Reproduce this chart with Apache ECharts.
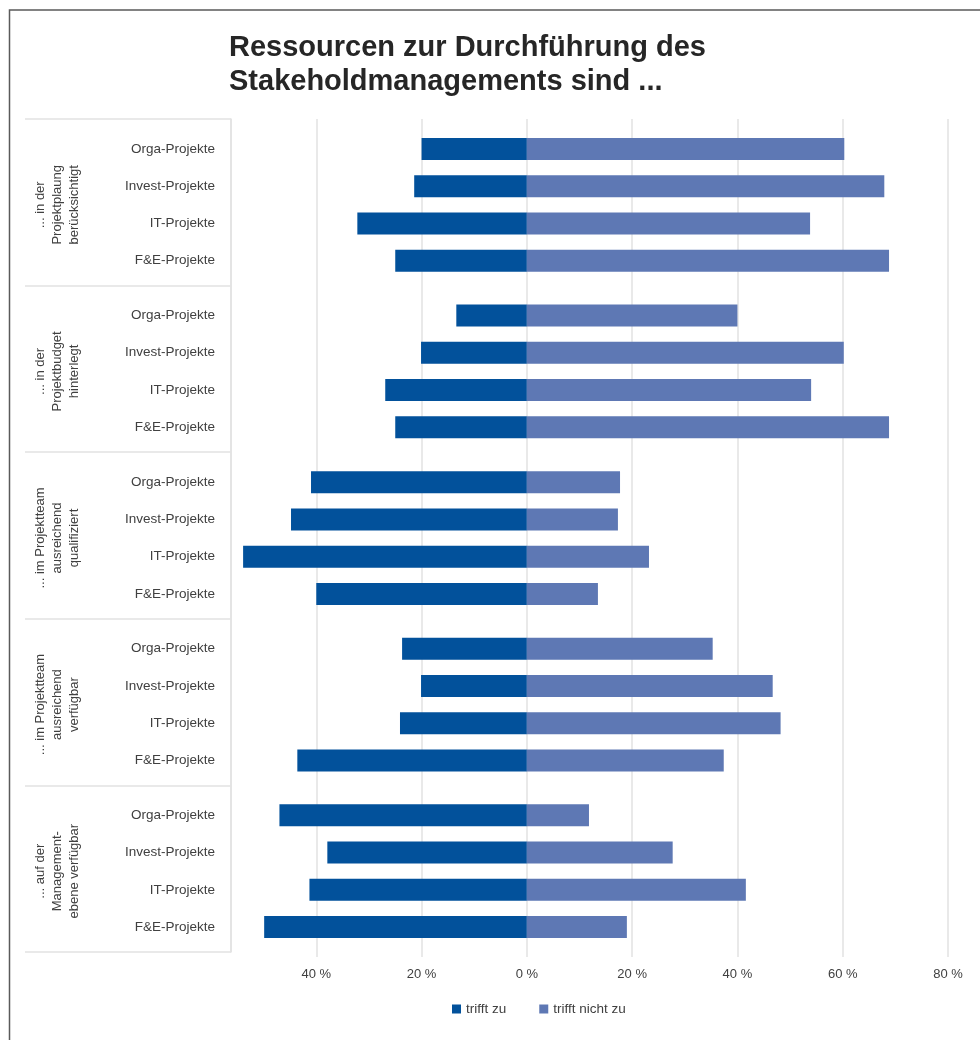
<!DOCTYPE html>
<html>
<head>
<meta charset="utf-8">
<script src="https://cdn.jsdelivr.net/npm/echarts@6/dist/echarts.min.js"></script>
<style>
  html, body { margin: 0; padding: 0; background: #fff; }
  #chart { width: 980px; height: 1040px; }
</style>
</head>
<body>
<div id="chart"></div>
<script>
// Question groups (rotated labels on the left) and the project types inside each group
const groupLabels = [
  '... in der\nProjektplaung\nberücksichtigt',
  '... in der\nProjektbudget\nhinterlegt',
  '... im Projektteam\nausreichend\nqualifiziert',
  '... im Projektteam\nausreichend\nverfügbar',
  '... auf der\nManagement-\nebene verfügbar'
];
const projectTypes = ['Orga-Projekte', 'Invest-Projekte', 'IT-Projekte', 'F&E-Projekte'];

// Shares in percent, four project types per group, groups in order
const trifftZu = [
  20.0, 21.4, 32.2, 25.0,
  13.4, 20.1, 26.9, 25.0,
  41.0, 44.8, 53.9, 40.0,
  23.7, 20.1, 24.1, 43.6,
  47.0, 37.9, 41.3, 49.9
];
const trifftNichtZu = [
  60.3, 67.9, 53.8, 68.8,
  40.0, 60.2, 54.0, 68.8,
  17.7, 17.3, 23.2, 13.5,
  35.3, 46.7, 48.2, 37.4,
  11.8, 27.7, 41.6, 19.0
];
const seriesNames = ['trifft zu', 'trifft nicht zu'];

const FONT = '"Liberation Sans", Arial, sans-serif';
const TEXT = '#404040';
const GRID_LINE = '#e2e2e2';
const COLORS = ['#02519b', '#5e78b4'];

const X_MIN = -56.2, X_MAX = 80;
const PLOT_LEFT = 231, PLOT_RIGHT = 948, PLOT_TOP = 119, PLOT_BOTTOM = 952;
const W = 980, H = 1040;
const bandH = (PLOT_BOTTOM - PLOT_TOP) / groupLabels.length;
const rowsH = 149;

const grids = [{
  left: PLOT_LEFT, right: W - PLOT_RIGHT, top: PLOT_TOP, bottom: H - PLOT_BOTTOM
}];
const xAxes = [{
  type: 'value', gridIndex: 0, min: X_MIN, max: X_MAX,
  splitNumber: 7, minInterval: 20, maxInterval: 20,
  axisLine: { show: false },
  axisTick: { show: true, length: 5, lineStyle: { color: GRID_LINE, width: 1.5 } },
  splitLine: { show: true, lineStyle: { color: GRID_LINE, width: 1.5 } },
  axisLabel: {
    showMinLabel: false, margin: 16, color: TEXT, fontSize: 13, fontFamily: FONT,
    formatter: v => (Math.abs(v) % 20 === 0 ? Math.abs(v) + ' %' : '')
  }
}];
const yAxes = [{
  // group frame on the left: ticks at band boundaries form the separators
  type: 'category', gridIndex: 0, data: groupLabels, position: 'left',
  axisLine: { show: true, onZero: false, lineStyle: { color: GRID_LINE, width: 1.5 } },
  axisTick: { show: true, length: PLOT_LEFT - 25, lineStyle: { color: GRID_LINE, width: 1.5 } },
  axisLabel: { show: false }
}];
const series = [];

groupLabels.forEach((label, g) => {
  const gi = g + 1;
  const top = PLOT_TOP + g * bandH + (bandH - rowsH) / 2 + 2.5;
  grids.push({ left: PLOT_LEFT, right: W - PLOT_RIGHT, top: top, height: rowsH });
  xAxes.push({
    type: 'value', gridIndex: gi, min: X_MIN, max: X_MAX, show: false,
    splitLine: { show: false }
  });
  yAxes.push({
    type: 'category', gridIndex: gi, data: projectTypes, inverse: true, position: 'left',
    axisLine: { show: false, onZero: false }, axisTick: { show: false },
    axisLabel: { margin: 16, color: TEXT, fontSize: 13.5, fontFamily: FONT },
    name: label, nameLocation: 'middle', nameGap: 148, nameRotate: 90,
    nameTextStyle: { color: TEXT, fontSize: 13, lineHeight: 17, fontFamily: FONT, align: 'center' }
  });
  const zu = trifftZu.slice(g * 4, g * 4 + 4).map(v => -v);
  const nicht = trifftNichtZu.slice(g * 4, g * 4 + 4);
  series.push({
    name: seriesNames[0], type: 'bar', xAxisIndex: gi, yAxisIndex: gi,
    stack: 'g' + g, barWidth: 22, data: zu, itemStyle: { color: COLORS[0] }
  });
  series.push({
    name: seriesNames[1], type: 'bar', xAxisIndex: gi, yAxisIndex: gi,
    stack: 'g' + g, barWidth: 22, data: nicht, itemStyle: { color: COLORS[1] }
  });
});

const chart = echarts.init(document.getElementById('chart'), null, { renderer: 'canvas' });
chart.setOption({
  animation: false,
  backgroundColor: '#fff',
  color: COLORS,
  title: {
    text: 'Ressourcen zur Durchführung des\nStakeholdmanagements sind ...',
    left: 229, top: 31, padding: 0,
    textStyle: { fontSize: 29, fontWeight: 'bold', color: '#262626', lineHeight: 34, fontFamily: FONT }
  },
  legend: {
    data: seriesNames, left: 452, top: 1002, padding: 0,
    icon: 'rect', itemWidth: 9, itemHeight: 9, itemGap: 33,
    textStyle: { color: TEXT, fontSize: 13.5, fontFamily: FONT }
  },
  graphic: [{
    type: 'rect', silent: true,
    shape: { x: 9.5, y: 10, width: 1200, height: 1200 },
    style: { fill: 'none', stroke: '#5a5a5a', lineWidth: 1.5 }
  }],
  grid: grids,
  xAxis: xAxes,
  yAxis: yAxes,
  series: series
});
</script>
</body>
</html>
